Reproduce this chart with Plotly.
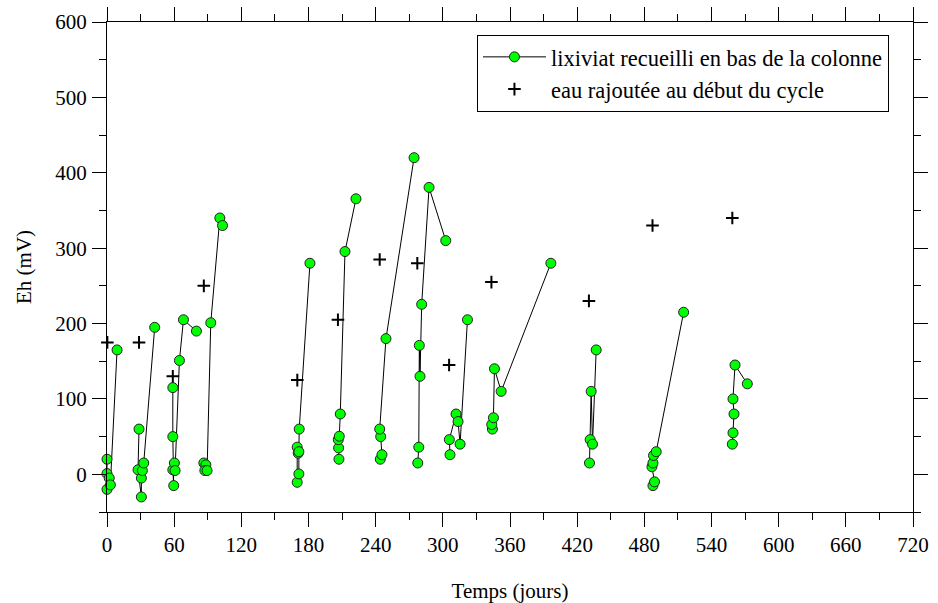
import plotly.graph_objects as go

# Leachate collected at the bottom of the column (None separates the cycles)
lix_days = [0, 0, 0, 2, 3, 9, None,
            28.6, 27.7, 30.7, 30.7, 31.6, 32.8, 42.6, None,
            58.8, 58.8, 59.6, 58.8, 60.2, 60.8, 64.7, 68.3, 79.9, None,
            86.5, 88.3, 87.4, 89.4, 92.7, 100.8, 103.2, None,
            169.9, 169.9, 171.4, 170.8, 171.4, 171.7, 181.3, None,
            207.2, 206.9, 206.6, 207.5, 208.4, 212.6, 222.4, None,
            244.1, 245.6, 244.5, 243.6, 249.2, 274.3, None,
            277.6, 278.5, 279.0, 279.6, 281.1, 287.7, 302.6, None,
            306.4, 305.8, 311.8, 313.6, 315.4, 322.0, None,
            344.3, 343.7, 345.2, 346.1, 352.1, 396.5, None,
            431.0, 431.6, 432.5, 433.7, 437.0, None,
            487.7, 489.1, 486.8, 487.7, 488.2, 490.6, 515.1, None,
            558.6, 559.2, 560.1, 559.2, 561.0, 572.0]
lix_eh = [20, 1, -20, -5, -14, 165, None,
          60, 6, -30, -5, 5, 15, 195, None,
          115, 50, -15, 6, 15, 5, 151, 205, 190, None,
          15, 12.5, 5, 5, 201, 340, 330, None,
          36, -10.6, 0.5, 28, 30, 60, 280, None,
          20, 35, 46, 50.5, 80, 295.5, 365.5, None,
          20, 26, 50, 60, 180, 420, None,
          15, 36, 171, 130, 225.5, 380.6, 310, None,
          26, 46, 80, 70, 40, 205, None,
          60, 66, 75, 140, 110, 280, None,
          15, 46, 110, 40, 165, None,
          -15, -10, 10, 15, 25, 30, 215, None,
          40, 55, 80, 100, 145, 120]

# Water added at the start of each cycle
eau_days = [0.3, 28.6, 58.8, 86.5, 170.0, 206.3, 243.6, 277.2, 305.6, 343.4, 430.5, 487.3, 558.6]
eau_eh = [175, 175, 130, 250, 125, 205, 285, 280, 145, 255, 230, 330, 340]

x_ticks = list(range(0, 721, 60))
y_ticks = list(range(0, 601, 100))
x_range = [0, 720]
y_range = [-50, 600]

FONT = "Liberation Serif"

fig = go.Figure()
fig.add_trace(go.Scatter(
    x=lix_days, y=lix_eh, mode="lines+markers",
    name="lixiviat recueilli en bas de la colonne",
    line=dict(color="black", width=1),
    marker=dict(color="#00FF00", size=10, line=dict(color="#222222", width=1)),
    cliponaxis=False, connectgaps=False,
))
fig.add_trace(go.Scatter(
    x=eau_days, y=eau_eh, mode="markers",
    name="eau rajoutée au début du cycle",
    marker=dict(symbol="cross-thin", size=9, color="black",
                line=dict(color="black", width=2)),
    cliponaxis=False,
))
# invisible trace so that the mirrored (top/right) axes are drawn
fig.add_trace(go.Scatter(
    x=[None], y=[None], xaxis="x2", yaxis="y2", mode="markers",
    showlegend=False, hoverinfo="skip",
))

tick_common = dict(
    showline=True, linecolor="black", linewidth=1,
    ticks="outside", ticklen=14, tickwidth=1, tickcolor="black",
    showgrid=False, zeroline=False, automargin=False,
    tickfont=dict(family=FONT, size=21, color="black"),
)
x_minor = dict(dtick=30, tick0=0, ticks="outside", ticklen=7, tickcolor="black", showgrid=False)
y_minor = dict(dtick=50, tick0=0, ticks="outside", ticklen=7, tickcolor="black", showgrid=False)

fig.update_layout(
    xaxis=dict(
        range=x_range, tickvals=x_ticks, ticktext=[str(v) for v in x_ticks],
        minor=x_minor,
        title=dict(text="Temps (jours)", font=dict(family=FONT, size=21, color="black"), standoff=27),
        **tick_common,
    ),
    yaxis=dict(
        range=y_range, tickvals=y_ticks, ticktext=[str(v) for v in y_ticks],
        minor=y_minor,
        title=dict(text="Eh (mV)", font=dict(family=FONT, size=21, color="black"), standoff=17),
        ticklabelstandoff=1,
        **tick_common,
    ),
    xaxis2=dict(
        range=x_range, tickvals=x_ticks, overlaying="x", anchor="y2", side="top",
        showticklabels=False, minor=x_minor, **tick_common,
    ),
    yaxis2=dict(
        range=y_range, tickvals=y_ticks, overlaying="y", anchor="x2", side="right",
        showticklabels=False, minor=y_minor, **tick_common,
    ),
    width=938, height=603,
    margin=dict(l=107, r=25, t=22, b=91),
    paper_bgcolor="white", plot_bgcolor="white",
    font=dict(family=FONT, size=21, color="black"),
    legend=dict(
        x=0.459, y=0.974, xanchor="left", yanchor="top",
        bordercolor="black", borderwidth=1, bgcolor="white",
        font=dict(family=FONT, size=22.5, color="black"),
        itemwidth=63,
    ),
    showlegend=True,
)

fig.write_html("out.html")
